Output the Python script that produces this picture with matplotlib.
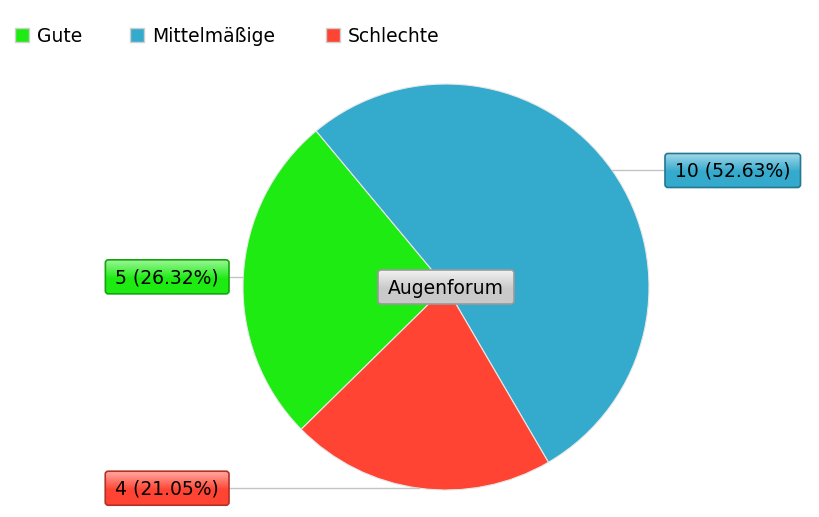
import numpy as np
import matplotlib
matplotlib.use("Agg")
import matplotlib.pyplot as plt
from matplotlib.patches import FancyBboxPatch, Rectangle
import matplotlib.colors as mcolors

categories = ["Gute", "Mittelmäßige", "Schlechte"]
values = [5, 10, 4]
colors = ["#1DEB12", "#34AACD", "#FF4433"]
title_label = "Augenforum"

W, H = 820, 517
fig = plt.figure(figsize=(W / 100, H / 100), dpi=100)
fig.patch.set_facecolor("white")

cx, cy, R = 446, 287, 203
ax = fig.add_axes([(cx - R) / W, (H - cy - R) / H, 2 * R / W, 2 * R / H])

wedges, _ = ax.pie(values, colors=colors, startangle=224.5, counterclock=False,
                   radius=1, wedgeprops=dict(edgecolor="#e8e8e8", linewidth=0.8))
ax.set_xlim(-1, 1)
ax.set_ylim(-1, 1)
ax.set_aspect("equal")
ax.axis("off")

ov = fig.add_axes([0, 0, 1, 1], zorder=5)
ov.set_xlim(0, W)
ov.set_ylim(H, 0)
ov.axis("off")
ov.patch.set_alpha(0)

FONT = "DejaVu Sans"
FS = 13.5

def to_px(x, y):
    d = ax.transData.transform((x, y))
    return d[0], H - d[1]

def mix(c, f):
    r = np.array(mcolors.to_rgb(c))
    return tuple(r + (1 - r) * f)

def darker(c, f):
    r = np.array(mcolors.to_rgb(c))
    return tuple(r * (1 - f))

fig.canvas.draw()
renderer = fig.canvas.get_renderer()

def gbox(xc, yc, text, base, top=None, edge=None, anchor="center"):
    t = ov.text(0, 0, text, fontsize=FS, family=FONT, ha="center", va="center",
                color="black", zorder=10)
    bb = t.get_window_extent(renderer=renderer)
    w = bb.width + 20
    h = 34
    if anchor == "left":
        x0 = xc
    elif anchor == "right":
        x0 = xc - w
    else:
        x0 = xc - w / 2
    y0 = yc - h / 2
    t.set_position((x0 + w / 2, yc + 1))
    top = top if top is not None else mix(base, 0.55)
    edge = edge if edge is not None else darker(base, 0.3)
    patch = FancyBboxPatch((x0, y0), w, h, boxstyle="round,pad=0,rounding_size=3",
                           facecolor="none", edgecolor=edge, linewidth=1.2, zorder=9)
    ov.add_patch(patch)
    n = 64
    t_arr = np.linspace(0, 1, n)
    c0 = np.array(mcolors.to_rgb(top))
    c1 = np.array(mcolors.to_rgb(base))
    grad = np.zeros((n, 1, 3))
    for i, s in enumerate(t_arr):
        ss = min(1.0, s / 0.55)
        grad[i, 0] = c0 * (1 - ss) + c1 * ss
    im = ov.imshow(grad, extent=(x0, x0 + w, y0 + h, y0), aspect="auto",
                   zorder=8, interpolation="bilinear")
    im.set_clip_path(patch)
    ov.set_xlim(0, W)
    ov.set_ylim(H, 0)
    return x0, w

fig.canvas.draw()

label_sides = {0: ("right", 229), 1: ("left", 665), 2: ("right", 229)}
total = sum(values)
for i, w_ in enumerate(wedges):
    mid = np.deg2rad((w_.theta1 + w_.theta2) / 2)
    px, py = to_px(np.cos(mid), np.sin(mid))
    side, bx = label_sides[i]
    txt = f"{values[i]} ({values[i] / total * 100:.2f}%)"
    ov.plot([px, bx], [py, py], color="#c4c4c4", lw=1, zorder=6)
    gbox(bx, py, txt, colors[i], anchor=side)

gbox(cx, cy, title_label, "#c9c9c9", top="#f2f2f2", edge="#9a9a9a")

lx = [15, 130, 326]
for i, cat in enumerate(categories):
    ov.add_patch(Rectangle((lx[i], 28), 14, 14, facecolor=colors[i],
                           edgecolor="#cfcfcf", lw=1, zorder=7))
    ov.text(lx[i] + 22, 36, cat, fontsize=FS, family=FONT, ha="left",
            va="center", color="black", zorder=7)

fig.savefig("out.png", dpi=100, facecolor="white")
